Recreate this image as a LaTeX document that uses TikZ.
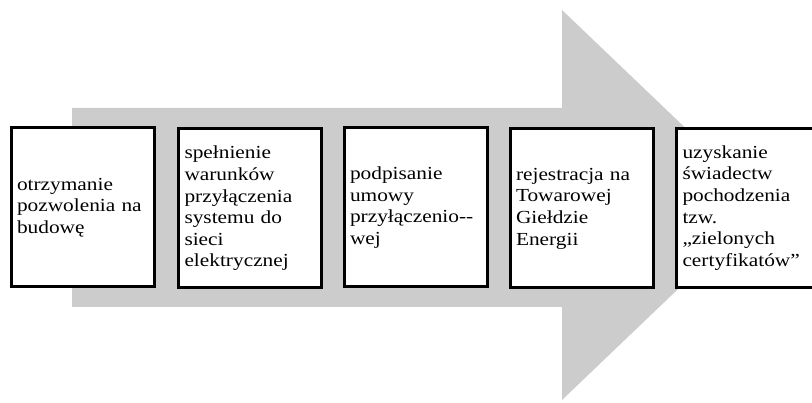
\documentclass[tikz,border=0pt]{standalone}
\usepackage{fontspec}
\newfontfamily\stepfont[FakeStretch=1.16]{Liberation Serif}
\usepackage{tikz}

\begin{document}
\begin{tikzpicture}[x=1pt, y=-1pt,
	stagebox/.style={draw, line width=3pt, fill=white, align=left, text width=131pt,
		inner xsep=6pt, minimum height=159pt, font=\stepfont\fontsize{18.4}{21.6}\selectfont}]
	\useasboundingbox (0,0) rectangle (812,403);
	% big grey arrow in the back
	\fill[gray!40] (72,108) -- (562,108) -- (562,10) -- (766,205) -- (562,400) -- (562,307) -- (72,307) -- cycle;
	\node[stagebox] (budowa) at (82.5,207.5) {otrzymanie\\ pozwolenia na\\ budowę};
	\node[stagebox] (warunki) at (250,208.5) {spełnienie\\ warunków\\ przyłączenia\\ systemu do\\ sieci\\ elektrycznej};
	\node[stagebox] (umowa) at (415.5,207.5) {podpisanie\\ umowy\\ przyłączenio-{}-\\ wej};
	\node[stagebox] (gielda) at (581.5,208.5) {rejestracja na\\ Towarowej\\ Giełdzie\\ Energii};
	\node[stagebox] (certyfikaty) at (748,208) {uzyskanie\\ świadectw\\ pochodzenia\\ tzw.\\ „zielonych\\ certyfikatów”};
\end{tikzpicture}
\end{document}
